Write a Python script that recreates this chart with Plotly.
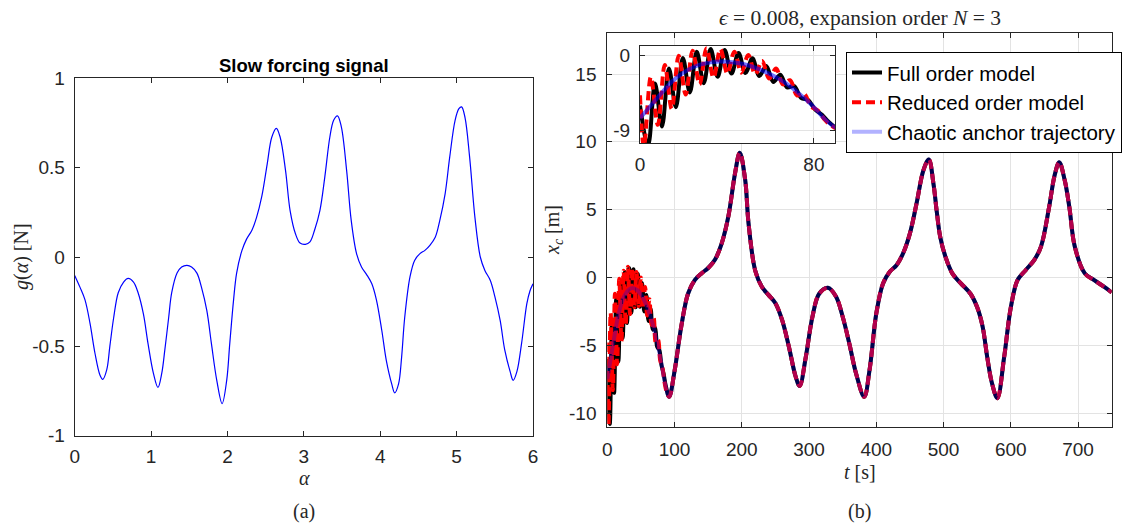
import plotly.graph_objects as go

# ---------------- data ----------------
# (a) slow forcing signal g(alpha)
alpha = [0.0, 0.07, 0.135, 0.2, 0.266, 0.33, 0.367, 0.42, 0.46, 0.51, 0.57, 0.64, 0.70, 0.77, 0.83,
         0.90, 0.96, 1.03, 1.09, 1.14, 1.18, 1.23, 1.27, 1.34, 1.40, 1.47, 1.53, 1.60, 1.66, 1.73,
         1.79, 1.86, 1.93, 1.99, 2.03, 2.08, 2.12, 2.19, 2.25, 2.32, 2.38, 2.45, 2.52, 2.58, 2.64,
         2.69, 2.76, 2.82, 2.89, 2.95, 3.02, 3.08, 3.14, 3.21, 3.275, 3.34, 3.39, 3.44, 3.49, 3.56,
         3.62, 3.69, 3.755, 3.82, 3.89, 3.95, 4.02, 4.08, 4.15, 4.19, 4.24, 4.28, 4.32, 4.39, 4.45,
         4.52, 4.585, 4.65, 4.72, 4.78, 4.85, 4.91, 4.98, 5.03, 5.065, 5.11, 5.17, 5.24, 5.31, 5.37,
         5.44, 5.50, 5.57, 5.63, 5.70, 5.74, 5.79, 5.85, 5.92, 5.96, 6.0]
g_alpha = [-0.103, -0.17, -0.24, -0.37, -0.54, -0.66, -0.685, -0.63, -0.50, -0.34, -0.20, -0.14, -0.12, -0.14, -0.20,
           -0.32, -0.485, -0.65, -0.73, -0.65, -0.52, -0.34, -0.20, -0.09, -0.056, -0.047, -0.056, -0.09, -0.17, -0.30,
           -0.485, -0.69, -0.82, -0.69, -0.485, -0.24, -0.09, 0.037, 0.10, 0.15, 0.22, 0.34, 0.52, 0.67, 0.72,
           0.67, 0.485, 0.26, 0.13, 0.078, 0.071, 0.085, 0.15, 0.26, 0.45, 0.67, 0.765, 0.79, 0.73, 0.485,
           0.205, 0.019, -0.056, -0.097, -0.15, -0.24, -0.41, -0.58, -0.71, -0.76, -0.71, -0.56, -0.34, -0.11, -0.019,
           0.019, 0.037, 0.065, 0.11, 0.205, 0.355, 0.56, 0.765, 0.83, 0.84, 0.78, 0.56, 0.22, 0.0, -0.075,
           -0.13, -0.22, -0.355, -0.52, -0.64, -0.69, -0.64, -0.485, -0.26, -0.19, -0.15]

# (b) chaotic anchor trajectory x_c(t)
anchor_t = [0, 5, 10, 15, 20, 25, 30, 35, 40, 45, 50, 55, 60, 65, 70, 75, 80, 85, 92, 100,
            110, 120, 130, 140, 150, 160, 170, 180, 190, 197, 205, 210, 220, 230, 240, 250, 260, 270, 280, 286,
            295, 305, 315, 328, 340, 350, 360, 370, 382, 390, 400, 410, 420, 430, 440, 450, 460, 470, 478, 485,
            490, 495, 503, 513, 525, 540, 550, 558, 565, 572, 580, 590, 600, 610, 622, 635, 645, 657, 665, 672,
            680, 687, 695, 710, 724, 739, 750]
anchor_x = [-7.5, -6.0, -4.5, -3.1, -2.1, -1.4, -1.0, -0.8, -0.8, -0.95, -1.25, -1.7, -2.3, -3.0, -3.9, -5.0, -6.2, -7.6, -8.8, -6.9,
            -3.6, -1.2, -0.2, 0.3, 0.7, 1.3, 2.5, 4.5, 7.7, 9.2, 7.2, 4.0, 0.5, -0.7, -1.3, -1.9, -3.15, -5.1, -7.3, -8.0,
            -5.9, -2.9, -1.2, -0.76, -1.4, -2.9, -4.9, -7.1, -8.8, -6.8, -2.65, -0.44, 0.42, 0.9, 1.8, 3.25, 5.5, 7.9, 8.7, 6.9,
            4.8, 3.0, 1.5, 0.3, -0.4, -1.2, -2.2, -3.6, -5.9, -7.8, -8.9, -5.9, -2.2, -0.2, 0.54, 1.3, 2.3, 5.2, 7.5, 8.5,
            7.2, 5.2, 2.3, 0.3, -0.2, -0.7, -1.1]

# transient of the full order model (turning points)
fom_t = [0, 3.7, 6.9, 10.1, 13.3, 16.5, 19.7, 22.9, 26.1, 29.3, 32.5, 35.7, 38.9, 42.1, 45.3,
         48.5, 51.7, 54.9, 58.1, 61.3, 64.5, 67.7, 70.9, 74.1, 77.3, 80.5, 83.7, 87.0]
fom_x = [-6.0, -10.8, -3.4, -8.5, -1.6, -6.2, -0.35, -4.45, 0.4, -3.35, 0.7, -2.6, 0.6, -2.2, 0.25,
         -2.15, -0.4, -2.5, -1.3, -3.2, -2.35, -3.85, -3.7, -5.1, -5.35, -6.45, -7.1, -8.0]

# transient of the reduced order model (turning points)
rom_t = [0, 1.8, 5.0, 8.2, 11.4, 14.6, 17.8, 21.0, 24.2, 27.4, 30.6, 33.8, 37.0, 40.2, 43.4,
         46.6, 49.8, 53.0, 56.2, 59.4, 62.6, 65.8, 69.0, 72.2, 75.4, 78.6, 81.8, 85.0, 88.0]
rom_x = [-4.8, -10.9, -2.6, -8.3, -1.2, -6.4, -0.1, -4.7, 0.5, -3.5, 0.8, -2.7, 0.7, -2.2, 0.4,
         -2.1, 0.0, -2.3, -0.7, -2.8, -1.6, -3.5, -3.0, -4.8, -4.6, -6.1, -6.6, -7.7, -8.4]

# tick values / labels
a_xticks = [0, 1, 2, 3, 4, 5, 6]
a_yticks = [-1, -0.5, 0, 0.5, 1]
a_yticktext = ["-1", "-0.5", "0", "0.5", "1"]
b_xticks = [0, 100, 200, 300, 400, 500, 600, 700]
b_yticks = [-10, -5, 0, 5, 10, 15]
b_yticktext = ["-10", "-5", "0", "5", "10", "15"]
ins_xticks = [0, 80]
ins_yticks = [-9, 0]
ins_yticktext = ["-9", "0"]

a_xrange = [0, 6]
a_yrange = [-1, 1]
b_xrange = [0, 750]
b_yrange = [-11, 18]
ins_xrange = [0, 89.7]
ins_yrange = [-10.5, 1.07]

# ---------------- helpers ----------------
W, H = 1122, 526


def px(x):
    return x / W


def py(y):
    return 1 - y / H


def anchor_after(t_last):
    """Anchor samples after the end of a transient (the models have converged)."""
    return ([t for t in anchor_t if t > t_last], [v for t, v in zip(anchor_t, anchor_x) if t > t_last])


fom_tail_t, fom_tail_x = anchor_after(fom_t[-1])
rom_tail_t, rom_tail_x = anchor_after(rom_t[-1])
fom_full_t = fom_t + fom_tail_t
fom_full_x = fom_x + fom_tail_x
rom_full_t = rom_t + rom_tail_t
rom_full_x = rom_x + rom_tail_x

AX = "#262626"
GRID = "#e3e3e3"
SANS = "Liberation Sans, Arial, sans-serif"
TICKFONT = dict(family=SANS, size=19, color=AX)
SERIF = "Liberation Serif, Times New Roman, serif"

BLACK = "#000000"
RED = "#ff0000"
BLUE_MAIN = "rgba(0,0,255,0.3)"
BLUE_INSET = "rgba(0,0,255,0.55)"
LW = 4
DASH = "9px,5px"

fig = go.Figure()

# (a)
fig.add_trace(go.Scatter(x=alpha, y=g_alpha, mode="lines", line=dict(color="#0000ff", width=1.2, shape="spline"),
                         showlegend=False, xaxis="x", yaxis="y", hoverinfo="skip"))

# (b) main axes
fig.add_trace(go.Scatter(x=fom_full_t, y=fom_full_x, mode="lines", name="Full order model",
                         line=dict(color=BLACK, width=LW, shape="spline"), xaxis="x2", yaxis="y2"))
fig.add_trace(go.Scatter(x=rom_full_t, y=rom_full_x, mode="lines", name="Reduced order model",
                         line=dict(color=RED, width=LW, dash=DASH, shape="spline"), xaxis="x2", yaxis="y2"))
fig.add_trace(go.Scatter(x=anchor_t, y=anchor_x, mode="lines", name="Chaotic anchor trajectory",
                         line=dict(color=BLUE_MAIN, width=LW, shape="spline"), xaxis="x2", yaxis="y2"))

# (b) zoomed inset
fig.add_trace(go.Scatter(x=fom_full_t, y=fom_full_x, mode="lines", showlegend=False,
                         line=dict(color=BLACK, width=LW, shape="spline"), xaxis="x3", yaxis="y3"))
fig.add_trace(go.Scatter(x=rom_full_t, y=rom_full_x, mode="lines", showlegend=False,
                         line=dict(color=RED, width=LW, dash=DASH, shape="spline"), xaxis="x3", yaxis="y3"))
fig.add_trace(go.Scatter(x=anchor_t, y=anchor_x, mode="lines", showlegend=False,
                         line=dict(color=BLUE_INSET, width=LW, shape="spline"), xaxis="x3", yaxis="y3"))

common = dict(showline=True, linecolor=AX, linewidth=1, mirror="ticks", ticks="inside", ticklen=5,
              tickcolor=AX, tickwidth=1, zeroline=False, tickfont=TICKFONT, tickmode="array")

fig.update_layout(
    width=W, height=H, autosize=False,
    margin=dict(l=0, r=0, t=0, b=0, autoexpand=False),
    paper_bgcolor="white", plot_bgcolor="white",
    xaxis=dict(domain=[px(74.7), px(533)], range=a_xrange, tickvals=a_xticks, showgrid=False,
               ticklabelstandoff=3, anchor="y", **common),
    yaxis=dict(domain=[py(435.7), py(78.3)], range=a_yrange, tickvals=a_yticks, ticktext=a_yticktext,
               showgrid=False, ticklabelstandoff=5, anchor="x", **common),
    xaxis2=dict(domain=[px(607.3), px(1111.7)], range=b_xrange, tickvals=b_xticks, showgrid=True,
                gridcolor=GRID, gridwidth=1, ticklabelstandoff=5, anchor="y2", **common),
    yaxis2=dict(domain=[py(426.7), py(33.3)], range=b_yrange, tickvals=b_yticks, ticktext=b_yticktext,
                showgrid=True, gridcolor=GRID, gridwidth=1, ticklabelstandoff=6, anchor="x2", **common),
    xaxis3=dict(domain=[px(640), px(835)], range=ins_xrange, tickvals=ins_xticks, showgrid=True,
                gridcolor=GRID, gridwidth=1, ticklabelstandoff=4, anchor="y3", **common),
    yaxis3=dict(domain=[py(143.3), py(46)], range=ins_yrange, tickvals=ins_yticks, ticktext=ins_yticktext,
                showgrid=True, gridcolor=GRID, gridwidth=1, ticklabelstandoff=5, anchor="x3", **common),
    legend=dict(x=px(846), y=py(51.7), xanchor="left", yanchor="top", bgcolor="white",
                bordercolor=BLACK, borderwidth=1, itemwidth=30,
                font=dict(family=SANS, size=20.5, color=BLACK),
                tracegroupgap=0),
    shapes=[dict(type="rect", xref="x3", yref="y3", x0=ins_xrange[0], x1=ins_xrange[1],
                 y0=ins_yrange[0], y1=ins_yrange[1], fillcolor="white", line=dict(width=0), layer="below")],
)


def label(text, x, y, size=20, angle=0, family=SERIF, color="#262626"):
    return dict(text=text, x=px(x), y=py(y), xref="paper", yref="paper", showarrow=False,
                xanchor="center", yanchor="middle", textangle=angle,
                font=dict(family=family, size=size, color=color))


fig.update_layout(annotations=[
    label("<b>Slow forcing signal</b>", 304, 65, size=18.5, family=SANS, color="#000000"),
    label("<i>ϵ</i> = 0.008, expansion order <i>N</i> = 3", 859.5, 18, size=21.5),
    label("<i>α</i>", 304, 478, size=20),
    label("<i>g</i>(<i>α</i>) [N]", 21, 257, size=20, angle=-90),
    label("<i>t</i> [s]", 859.5, 472, size=20),
    label("<i>x<sub>c</sub></i> [m]", 553, 230, size=20, angle=-90),
    label("(a)", 304, 511, size=20),
    label("(b)", 859.5, 511, size=20),
])

fig.write_html("out.html")
